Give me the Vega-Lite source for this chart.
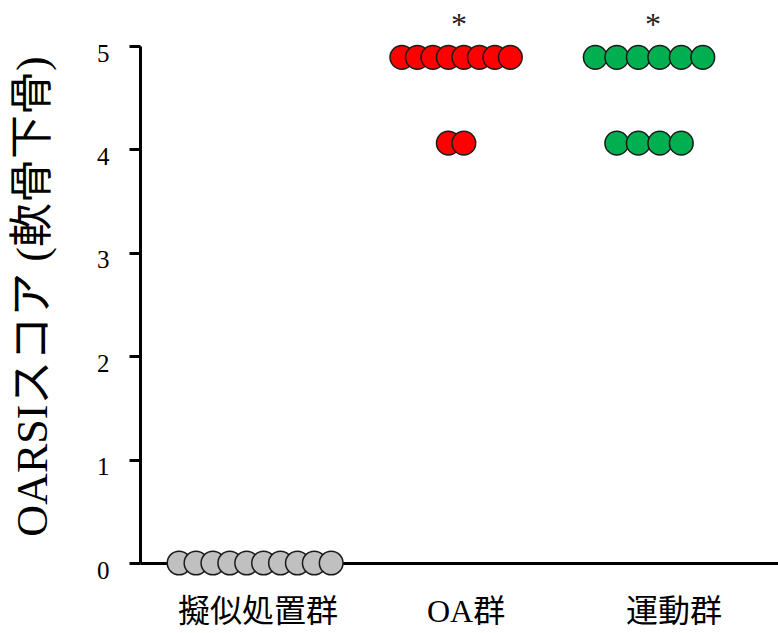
{
  "$schema": "https://vega.github.io/schema/vega-lite/v6.json",
  "width": 638,
  "height": 517,
  "autosize": "none",
  "padding": {"left": 140, "top": 46, "right": 0, "bottom": 70},
  "background": "white",
  "config": {"view": {"stroke": null}},
  "datasets": {
    "dots": [
      {"g": "擬似処置群", "score": 0, "k": -4.5},
      {"g": "擬似処置群", "score": 0, "k": -3.5},
      {"g": "擬似処置群", "score": 0, "k": -2.5},
      {"g": "擬似処置群", "score": 0, "k": -1.5},
      {"g": "擬似処置群", "score": 0, "k": -0.5},
      {"g": "擬似処置群", "score": 0, "k": 0.5},
      {"g": "擬似処置群", "score": 0, "k": 1.5},
      {"g": "擬似処置群", "score": 0, "k": 2.5},
      {"g": "擬似処置群", "score": 0, "k": 3.5},
      {"g": "擬似処置群", "score": 0, "k": 4.5},
      {"g": "OA群", "score": 4.89, "k": -3.5},
      {"g": "OA群", "score": 4.89, "k": -2.5},
      {"g": "OA群", "score": 4.89, "k": -1.5},
      {"g": "OA群", "score": 4.89, "k": -0.5},
      {"g": "OA群", "score": 4.89, "k": 0.5},
      {"g": "OA群", "score": 4.89, "k": 1.5},
      {"g": "OA群", "score": 4.89, "k": 2.5},
      {"g": "OA群", "score": 4.89, "k": 3.5},
      {"g": "OA群", "score": 4.06, "k": -0.5},
      {"g": "OA群", "score": 4.06, "k": 0.5},
      {"g": "運動群", "score": 4.89, "k": -2.5},
      {"g": "運動群", "score": 4.89, "k": -1.5},
      {"g": "運動群", "score": 4.89, "k": -0.5},
      {"g": "運動群", "score": 4.89, "k": 0.5},
      {"g": "運動群", "score": 4.89, "k": 1.5},
      {"g": "運動群", "score": 4.89, "k": 2.5},
      {"g": "運動群", "score": 4.06, "k": -1.5},
      {"g": "運動群", "score": 4.06, "k": -0.5},
      {"g": "運動群", "score": 4.06, "k": 0.5},
      {"g": "運動群", "score": 4.06, "k": 1.5}
    ],
    "sig": [
      {"g": "OA群", "score": 5.2, "k": 0, "label": "*"},
      {"g": "運動群", "score": 5.2, "k": 0, "label": "*"}
    ]
  },
  "encoding": {
    "x": {
      "field": "g",
      "type": "nominal",
      "sort": ["擬似処置群", "OA群", "運動群"],
      "scale": {"type": "band", "domain": ["擬似処置群", "OA群", "運動群"], "paddingInner": 0, "paddingOuter": 0.034, "align": 1},
      "axis": {
        "title": null,
        "ticks": false,
        "domainColor": "black",
        "domainWidth": 3,
        "labelFont": "Liberation Serif, Noto Sans CJK JP",
        "labelFontSize": 32,
        "labelColor": "black",
        "labelPadding": 33,
        "labelAngle": 0
      }
    },
    "y": {
      "field": "score",
      "type": "quantitative",
      "scale": {"domain": [0, 5], "nice": false, "zero": true},
      "axis": {
        "title": "OARSIスコア (軟骨下骨)",
        "values": [0, 1, 2, 3, 4, 5],
        "grid": false,
        "domainColor": "black",
        "domainWidth": 3,
        "tickColor": "black",
        "tickWidth": 3,
        "tickSize": 11,
        "labelFont": "Liberation Serif",
        "labelFontSize": 25,
        "labelColor": "black",
        "labelPadding": 20,
        "labelOffset": 7,
        "titleFont": "Liberation Serif, Noto Sans CJK JP",
        "titleFontSize": 44,
        "titleFontWeight": "normal",
        "titleColor": "black",
        "titleX": -107,
        "titleY": 250,
        "titleAngle": 270,
        "titleAlign": "center",
        "titleBaseline": "middle"
      }
    }
  },
  "layer": [
    {
      "data": {"name": "dots"},
      "transform": [{"filter": "datum.g === '擬似処置群'"}],
      "mark": {"type": "circle", "size": 560, "fill": "#c0c0c0", "stroke": "#1a1a1a", "strokeWidth": 1.5, "opacity": 1},
      "encoding": {
        "xOffset": {"field": "k", "type": "quantitative", "scale": {"domain": [-1, 1], "range": [84.1, 117.9], "nice": false, "zero": false}}
      }
    },
    {
      "data": {"name": "dots"},
      "transform": [{"filter": "datum.g === 'OA群'"}],
      "mark": {"type": "circle", "size": 560, "fill": "#ff0000", "stroke": "#1a1a1a", "strokeWidth": 1.5, "opacity": 1},
      "encoding": {
        "xOffset": {"field": "k", "type": "quantitative", "scale": {"domain": [-1, 1], "range": [78.5, 109.5], "nice": false, "zero": false}}
      }
    },
    {
      "data": {"name": "dots"},
      "transform": [{"filter": "datum.g === '運動群'"}],
      "mark": {"type": "circle", "size": 560, "fill": "#00b050", "stroke": "#1a1a1a", "strokeWidth": 1.5, "opacity": 1},
      "encoding": {
        "xOffset": {"field": "k", "type": "quantitative", "scale": {"domain": [-1, 1], "range": [57.5, 100.5], "nice": false, "zero": false}}
      }
    },
    {
      "data": {"name": "sig"},
      "transform": [{"filter": "datum.g === 'OA群'"}],
      "mark": {"type": "text", "font": "Liberation Serif", "fontSize": 32, "color": "#222222", "baseline": "middle", "align": "center"},
      "encoding": {
        "text": {"field": "label"},
        "xOffset": {"field": "k", "type": "quantitative", "scale": {"domain": [-1, 1], "range": [96, 98], "nice": false, "zero": false}}
      }
    },
    {
      "data": {"name": "sig"},
      "transform": [{"filter": "datum.g === '運動群'"}],
      "mark": {"type": "text", "font": "Liberation Serif", "fontSize": 32, "color": "#222222", "baseline": "middle", "align": "center"},
      "encoding": {
        "text": {"field": "label"},
        "xOffset": {"field": "k", "type": "quantitative", "scale": {"domain": [-1, 1], "range": [82, 84], "nice": false, "zero": false}}
      }
    }
  ],
  "resolve": {"scale": {"xOffset": "independent"}}
}
